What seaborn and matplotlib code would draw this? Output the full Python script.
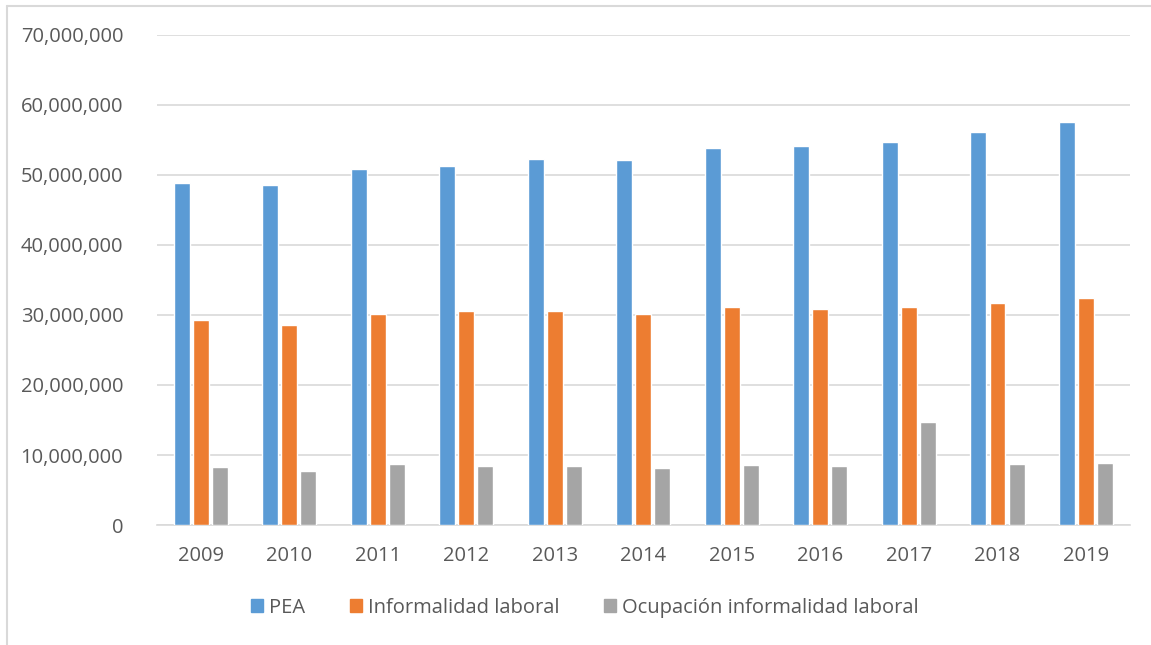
import pandas as pd
import seaborn as sns
import matplotlib.pyplot as plt
from matplotlib.ticker import FuncFormatter
from matplotlib.lines import Line2D

years = ["2009", "2010", "2011", "2012", "2013", "2014",
         "2015", "2016", "2017", "2018", "2019"]
pea = [48.9, 48.5, 50.8, 51.3, 52.3, 52.1, 53.8, 54.1, 54.7, 56.1, 57.6]
informalidad = [29.3, 28.6, 30.2, 30.5, 30.5, 30.1, 31.2, 30.8, 31.1, 31.7, 32.4]
ocupacion = [8.3, 7.7, 8.7, 8.5, 8.5, 8.2, 8.6, 8.4, 14.7, 8.7, 8.9]
series = ["PEA", "Informalidad laboral", "Ocupación informalidad laboral"]
colores = ["#5B9BD5", "#ED7D31", "#A5A5A5"]

# tabla larga para seaborn (valores en millones -> personas)
df = pd.DataFrame({
    "year": years * 3,
    "serie": [series[0]] * 11 + [series[1]] * 11 + [series[2]] * 11,
    "valor": [v * 1e6 for v in pea + informalidad + ocupacion],
})

sns.set_style("white")
plt.rcParams["font.family"] = ["Open Sans", "DejaVu Sans"]

fig = plt.figure(figsize=(11.51, 6.45), dpi=100)
ax = fig.add_axes([0.136, 0.186, 0.846, 0.760])

sns.barplot(data=df, x="year", y="valor", hue="serie", palette=colores,
            saturation=1, width=0.645, gap=0.16, ax=ax, legend=False, zorder=3)

ax.set_ylim(0, 70e6)
ax.set_yticks(range(0, 70000001, 10000000))
ax.yaxis.set_major_formatter(FuncFormatter(lambda v, p: f"{int(v):,}"))
ax.grid(axis="y", color="#D9D9D9", linewidth=1.2, zorder=0)
ax.set_axisbelow(True)
for s in ["top", "right", "left"]:
    ax.spines[s].set_visible(False)
ax.spines["bottom"].set_color("#D9D9D9")
ax.spines["bottom"].set_linewidth(1.2)
ax.set_xlim(-0.5, 10.5)
ax.set_xlabel("")
ax.set_ylabel("")
ax.tick_params(axis="both", length=0, labelsize=14.5, labelcolor="#595959")
ax.tick_params(axis="x", pad=15)
ax.tick_params(axis="y", pad=24)

handles = [plt.Rectangle((0, 0), 1, 1, color=c) for c in colores]
fig.legend(handles, series, loc="center", bbox_to_anchor=(0.508, 0.058), ncol=3,
           frameon=False, fontsize=14.5, handlelength=0.6, handleheight=0.6,
           handletextpad=0.3, columnspacing=2.2, labelcolor="#595959")

# marco del gráfico (solo arriba e izquierda, el resto queda recortado)
x0, y0 = 7 / 1151, 1 - 6 / 645
fig.add_artist(Line2D([x0, 1], [y0, y0], transform=fig.transFigure,
                      color="#D9D9D9", linewidth=1.5))
fig.add_artist(Line2D([x0, x0], [0, y0], transform=fig.transFigure,
                      color="#D9D9D9", linewidth=1.5))

fig.savefig("out.png", dpi=100)
